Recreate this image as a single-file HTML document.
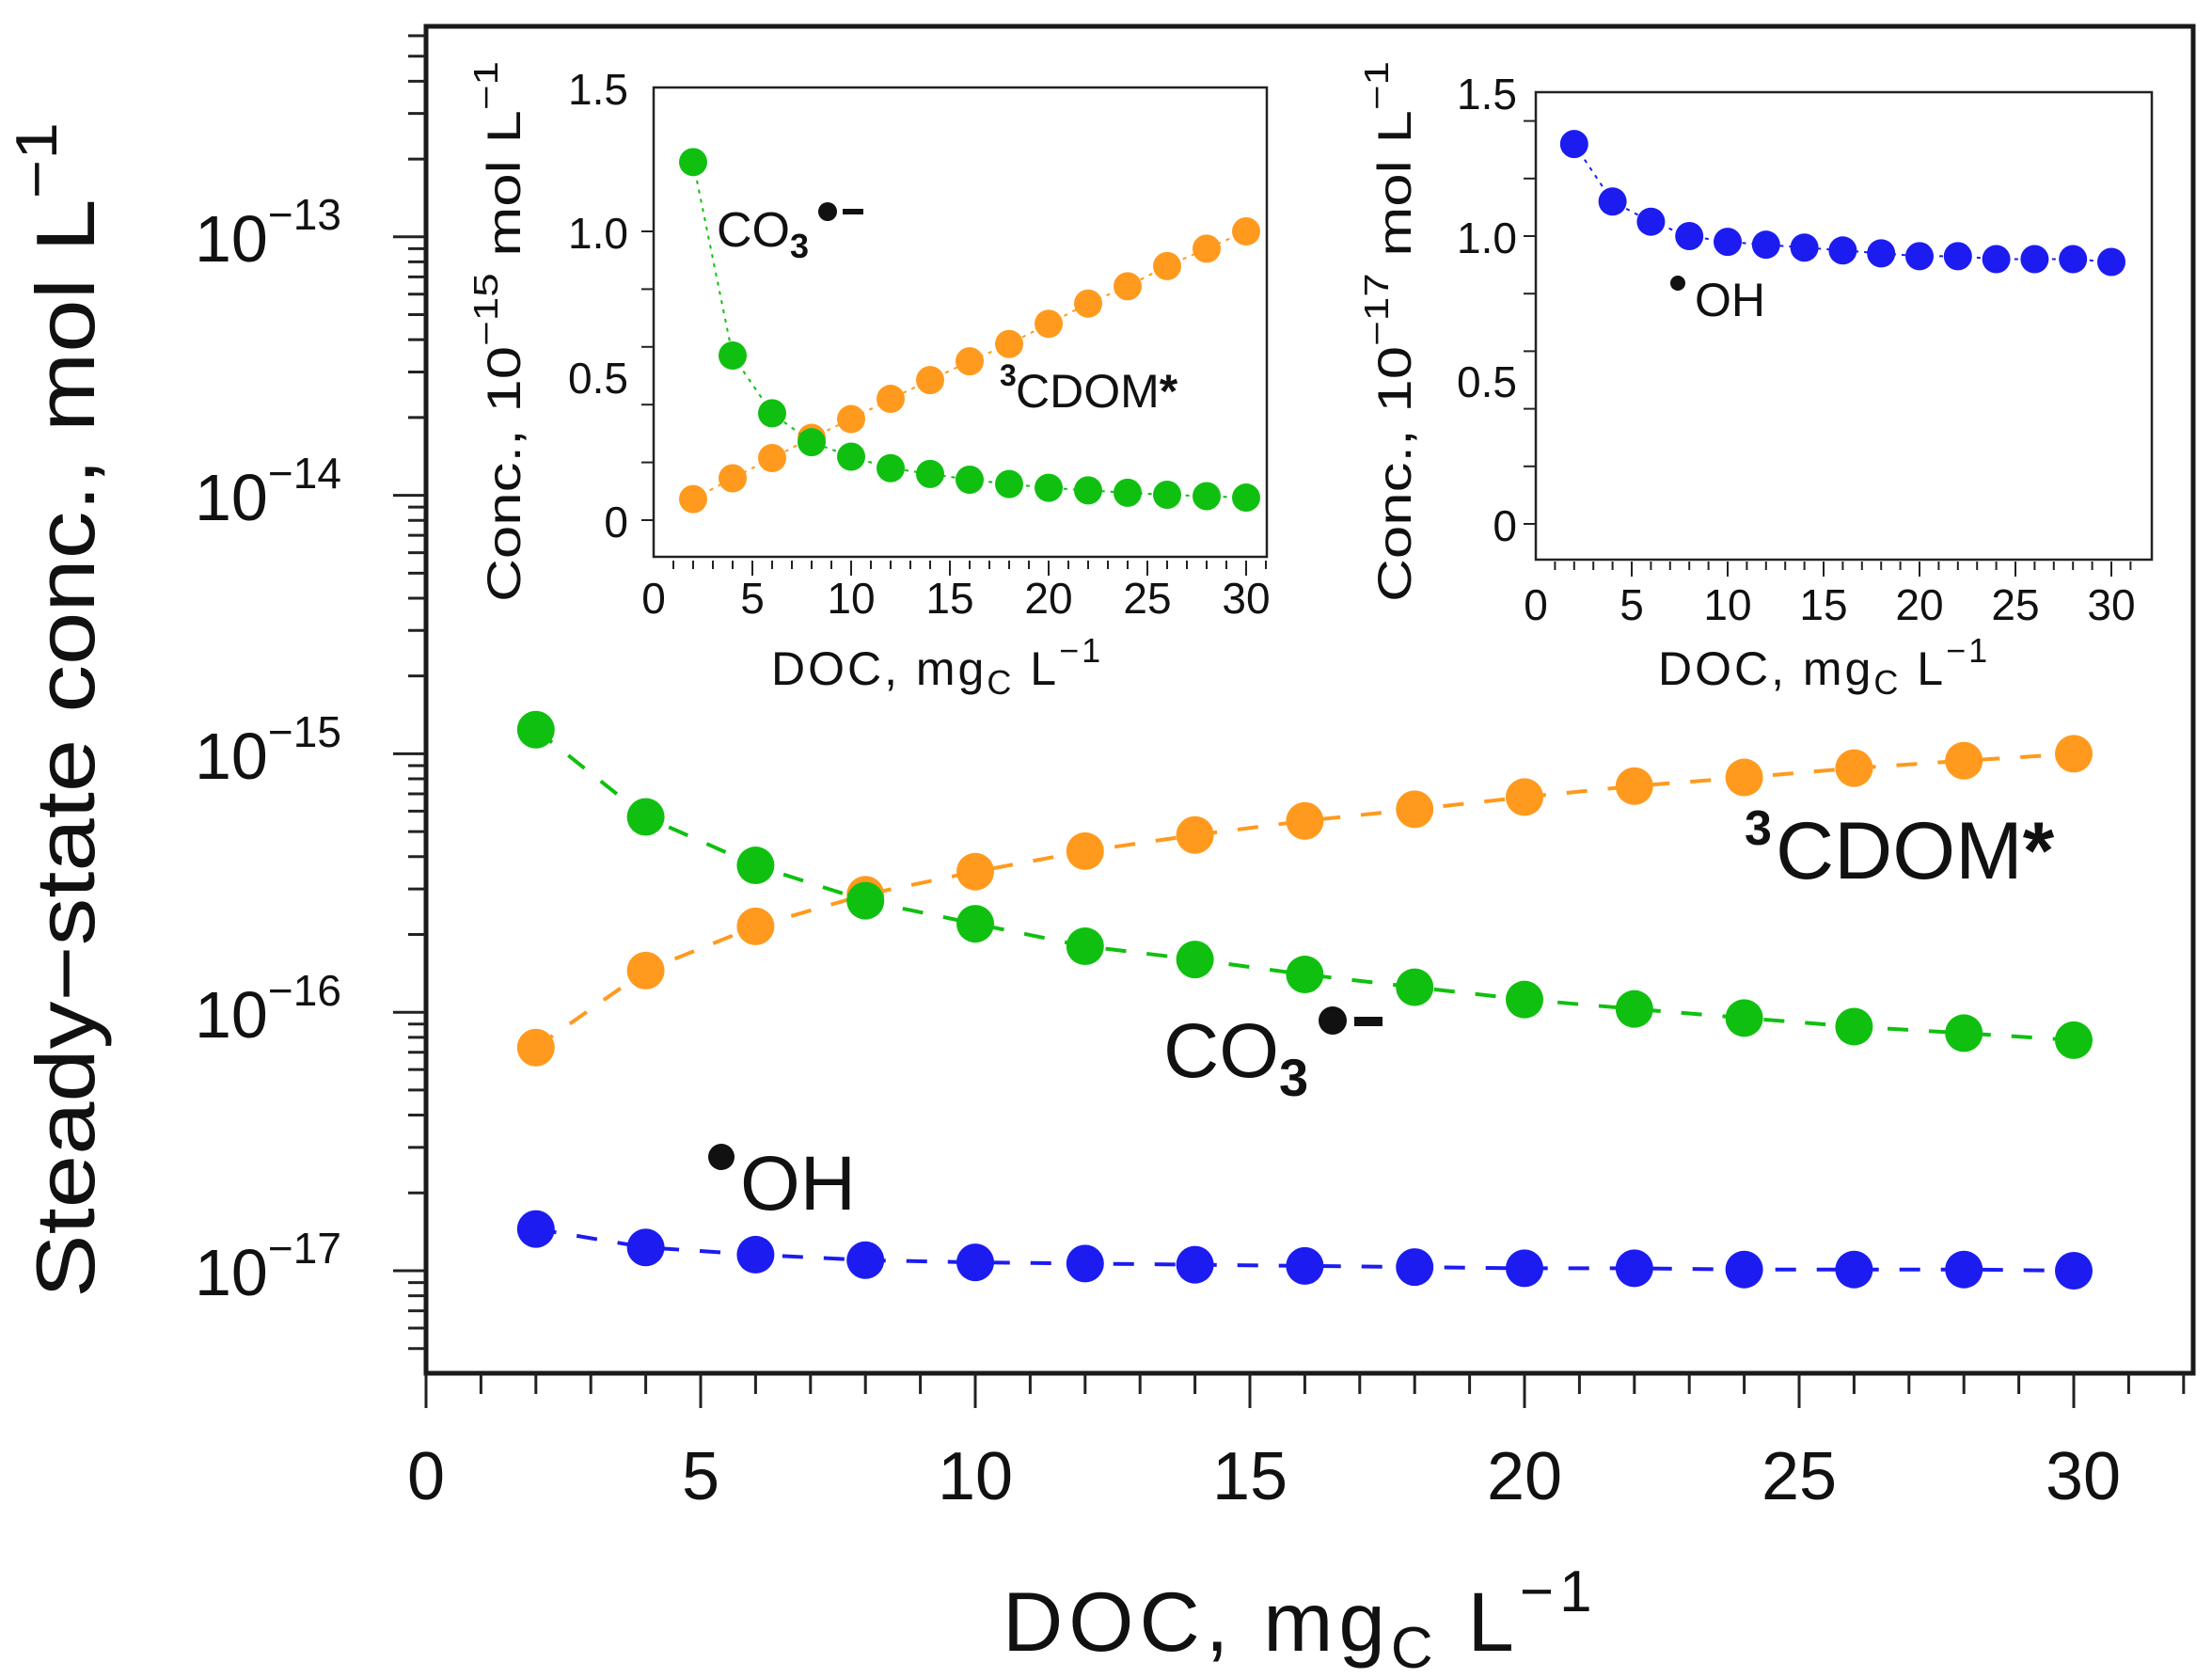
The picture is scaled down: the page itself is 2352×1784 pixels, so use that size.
<!DOCTYPE html>
<html><head><meta charset="utf-8"><style>
html,body{margin:0;padding:0;background:#fff;}
svg{display:block;font-family:"Liberation Sans",Arial,sans-serif;}
</style></head><body>
<svg id="s" width="2352" height="1784" viewBox="0 0 2352 1784" xmlns="http://www.w3.org/2000/svg">
<rect width="2352" height="1784" fill="#fff"/>
<rect x="453" y="28" width="1879" height="1432" fill="none" stroke="#1a1a1a" stroke-width="5"/>
<g id="g"></g>
<g font-size="70" fill="#111">
<text x="207" y="278">10<tspan font-size="46" dy="-34">−13</tspan></text>
<text x="207" y="553">10<tspan font-size="46" dy="-34">−14</tspan></text>
<text x="207" y="828">10<tspan font-size="46" dy="-34">−15</tspan></text>
<text x="207" y="1103">10<tspan font-size="46" dy="-34">−16</tspan></text>
<text x="207" y="1377">10<tspan font-size="46" dy="-34">−17</tspan></text>
</g>
<g font-size="72" fill="#111" text-anchor="middle">
<text x="453" y="1594">0</text><text x="745" y="1594">5</text><text x="1037" y="1594">10</text>
<text x="1329" y="1594">15</text><text x="1621" y="1594">20</text><text x="1913" y="1594">25</text><text x="2215" y="1594">30</text>
</g>
<text transform="translate(100,1380) rotate(-90)" font-size="88" fill="#111" textLength="1250" lengthAdjust="spacingAndGlyphs">Steady−state conc., mol L<tspan font-size="62" dy="-40">−1</tspan></text>
<text x="1066" y="1755" font-size="89" fill="#111" letter-spacing="6">DOC, mg<tspan font-size="62" dy="18">C</tspan><tspan dy="-18">  L</tspan><tspan font-size="62" dy="-42">−1</tspan></text>
<text x="1855" y="898" font-size="52" font-weight="bold" fill="#111">3</text>
<text x="1888" y="934" font-size="86" fill="#111">CDOM<tspan font-weight="bold">*</tspan></text>
<text x="1237" y="1145" font-size="82" fill="#111">CO<tspan font-size="56" dy="20" font-weight="bold">3</tspan></text>
<circle cx="1417" cy="1085" r="15" fill="#111"/><rect x="1440" y="1081" width="30" height="10" fill="#111"/>
<circle cx="767" cy="1230" r="14" fill="#111"/>
<text x="787" y="1286" font-size="82" fill="#111">OH</text>
<rect x="695" y="93" width="652" height="499" fill="none" stroke="#222" stroke-width="2.5"/>
<g font-size="46" fill="#111" text-anchor="end">
<text x="668" y="111">1.5</text><text x="668" y="264">1.0</text><text x="668" y="418">0.5</text><text x="668" y="571">0</text>
</g>
<g font-size="46" fill="#111" text-anchor="middle">
<text x="695" y="652">0</text><text x="800" y="652">5</text><text x="905" y="652">10</text><text x="1010" y="652">15</text><text x="1115" y="652">20</text><text x="1220" y="652">25</text><text x="1325" y="652">30</text>
</g>
<text x="820" y="728" font-size="50" fill="#111" letter-spacing="3">DOC, mg<tspan font-size="36" dy="10">C</tspan><tspan dy="-10">  L</tspan><tspan font-size="36" dy="-24">−1</tspan></text>
<text transform="translate(553,640) rotate(-90)" font-size="50" fill="#111" textLength="575" lengthAdjust="spacingAndGlyphs">Conc.,  10<tspan font-size="36" dy="-24">−15</tspan><tspan dy="24">  mol  L</tspan><tspan font-size="36" dy="-24">−1</tspan></text>
<text x="762" y="262" font-size="52" fill="#111">CO<tspan font-size="36" dy="12" font-weight="bold">3</tspan></text>
<circle cx="880" cy="225" r="10" fill="#111"/><rect x="896" y="222" width="22" height="6" fill="#111"/>
<text x="1063" y="410" font-size="32" font-weight="bold" fill="#111">3</text>
<text x="1080" y="433" font-size="50" fill="#111">CDOM<tspan font-weight="bold">*</tspan></text>
<rect x="1633" y="98" width="655" height="497" fill="none" stroke="#222" stroke-width="2.5"/>
<g font-size="46" fill="#111" text-anchor="end">
<text x="1613" y="116">1.5</text><text x="1613" y="269">1.0</text><text x="1613" y="422">0.5</text><text x="1613" y="575">0</text>
</g>
<g font-size="46" fill="#111" text-anchor="middle">
<text x="1633" y="659">0</text><text x="1735" y="659">5</text><text x="1837" y="659">10</text><text x="1939" y="659">15</text><text x="2041" y="659">20</text><text x="2143" y="659">25</text><text x="2245" y="659">30</text>
</g>
<text x="1763" y="728" font-size="50" fill="#111" letter-spacing="3">DOC, mg<tspan font-size="36" dy="10">C</tspan><tspan dy="-10">  L</tspan><tspan font-size="36" dy="-24">−1</tspan></text>
<text transform="translate(1500,640) rotate(-90)" font-size="50" fill="#111" textLength="575" lengthAdjust="spacingAndGlyphs">Conc.,  10<tspan font-size="36" dy="-24">−17</tspan><tspan dy="24">  mol  L</tspan><tspan font-size="36" dy="-24">−1</tspan></text>
<circle cx="1784" cy="301" r="8" fill="#111"/>
<text x="1802" y="336" font-size="50" fill="#111">OH</text>
</svg>
<script>
var g=document.getElementById('g'),NS='http://www.w3.org/2000/svg';
function el(t,a){var e=document.createElementNS(NS,t);for(var k in a)e.setAttribute(k,a[k]);g.appendChild(e);return e;}
var xs=[2,4,6,8,10,12,14,16,18,20,22,24,26,28,30];
var gr=[1.24,0.57,0.37,0.27,0.22,0.18,0.16,0.14,0.125,0.112,0.103,0.095,0.088,0.083,0.078];
var orr=[0.073,0.145,0.215,0.285,0.35,0.42,0.485,0.55,0.61,0.68,0.75,0.81,0.88,0.94,1.0];
var bl=[1.32,1.12,1.05,1.0,0.98,0.97,0.96,0.95,0.94,0.93,0.93,0.92,0.92,0.92,0.91];
var blm=bl.map(function(v){return v/0.91;});
var G='#10c010',O='#ff9a1e',B='#1c1cf0';
for(var i=0;i<=32;i++){var x=453+58.4*i;el('line',{x1:x,y1:1460,x2:x,y2:(i%5==0?1497:1482),stroke:'#222','stroke-width':3});}
for(var d=-18;d<=-13;d++){for(var m=1;m<10;m++){var v=Math.log10(m)+d+17;var y=1351-274.8*v;if(y<30||y>1458)continue;el('line',{x1:(m==1?418:434),y1:y,x2:453,y2:y,stroke:'#222','stroke-width':3});}}
function MX(x){return 453+58.4*x;}
function MY(v,e){return 1351-274.8*(Math.log10(v)+e);}
function series(X,Y,arr,e,col,r,dash,w){var p='';for(var i=0;i<15;i++)p+=(i?'L':'M')+X(xs[i])+' '+Y(arr[i],e);
el('path',{d:p,fill:'none',stroke:col,'stroke-width':w,'stroke-dasharray':dash});
for(var i=0;i<15;i++)el('circle',{cx:X(xs[i]),cy:Y(arr[i],e),r:r,fill:col});}
series(MX,MY,orr,2,O,20,'22 22',4);
series(MX,MY,gr,2,G,20,'22 22',4);
series(MX,MY,blm,0,B,20,'22 22',4);
function I1X(x){return 695+21*x;} function I1Y(v){return 553-307*v;}
for(var i=1;i<=31;i++)el('line',{x1:I1X(i),y1:596,x2:I1X(i),y2:(i%5==0?612:605),stroke:'#222','stroke-width':2});
for(var k=0;k<=5;k++){var y=553-61.4*k;el('line',{x1:682,y1:y,x2:695,y2:y,stroke:'#222','stroke-width':2});}
series(I1X,I1Y,orr,0,O,15,'4 6',2);
series(I1X,I1Y,gr,0,G,15,'4 6',2);
function I2X(x){return 1633+20.4*x;} function I2Y(v){return 557-306*v;}
for(var i=1;i<=31;i++)el('line',{x1:I2X(i),y1:597,x2:I2X(i),y2:(i%5==0?613:606),stroke:'#222','stroke-width':2});
for(var k=0;k<=7;k++){var y=557-61.2*k;el('line',{x1:1620,y1:y,x2:1633,y2:y,stroke:'#222','stroke-width':2});}
series(I2X,I2Y,bl,0,B,15,'4 6',2);
</script>
</body></html>
